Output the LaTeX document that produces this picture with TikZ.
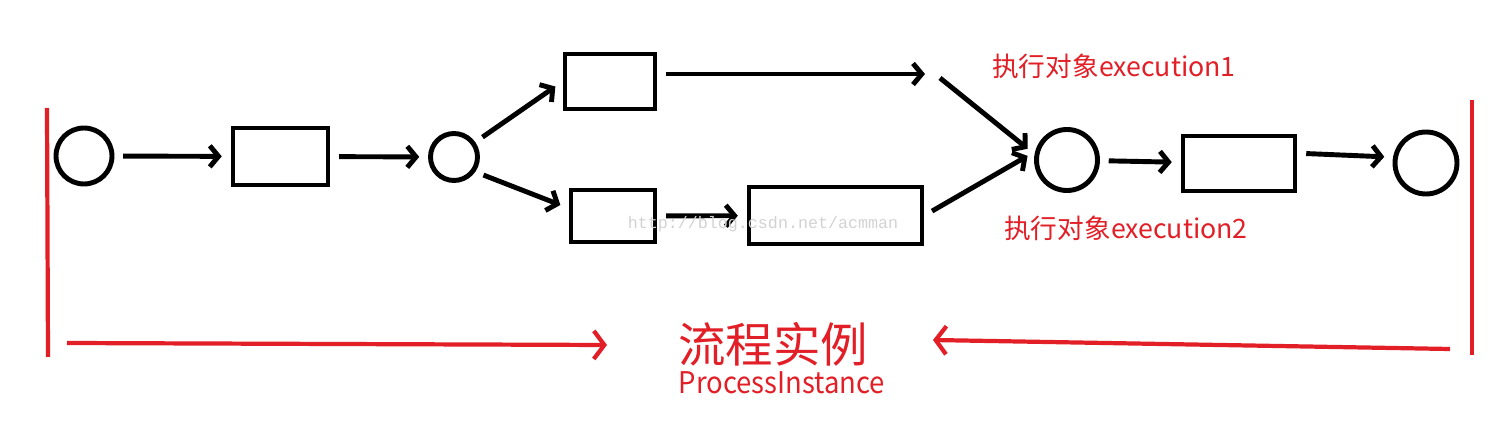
\documentclass[tikz,border=0pt]{standalone}
\usepackage{fontspec}
\newfontfamily\cjk{Noto Sans CJK SC}
\newfontfamily\cjknarrow[FakeStretch=0.92]{Noto Sans CJK SC}
\newfontfamily\wmfont{Liberation Mono}
\usetikzlibrary{arrows.meta}
\definecolor{penred}{RGB}{226,30,38}

\begin{document}
\begin{tikzpicture}[x=0.02cm,y=-0.02cm,line width=2.8pt,
        place/.style={draw,circle,inner sep=0pt,minimum size=#1},
        task/.style={draw,rectangle,inner sep=0pt},
        flow/.style={-{Straight Barb[length=5pt,width=12pt]},shorten <=5pt,shorten >=5pt},
        execlbl/.style={text=penred,inner sep=0pt,font=\cjk\fontsize{15.2}{17}\selectfont},
        span/.style={draw=penred,line width=2.4pt},
        spanarrow/.style={span,-{Straight Barb[length=6pt,width=16pt]}}]
        \useasboundingbox (0,0) rectangle (1508,428);
        \node [place=1.12cm] (start) at (84,156) {};
        \node [task,minimum width=1.9cm,minimum height=1.14cm] (t1) at (280.5,156.5) {};
        \node [place=0.94cm] (fork) at (454,157) {};
        \node [task,minimum width=1.8cm,minimum height=1.1cm] (t2) at (610,81.5) {};
        \node [task,minimum width=1.68cm,minimum height=1.04cm] (t3) at (613,216) {};
        \node [task,minimum width=3.46cm,minimum height=1.14cm] (t4) at (835.5,215.5) {};
        \node [place=1.22cm] (join) at (1067,160) {};
        \node [task,minimum width=2.24cm,minimum height=1.1cm] (t5) at (1239,163.5) {};
        \node [place=1.24cm] (end) at (1426,163) {};
        \coordinate (gap1) at (925,74);
        \coordinate (gap2) at (940,78);
        \draw [flow] (start) -- (t1);
        \draw [flow] (t1) -- (fork);
        \draw [flow] (fork.35) -- (t2.west);
        \draw [flow] (fork.-35) -- (t3.170);
        \draw [flow,shorten >=0pt] (t2.east |- gap1) -- (gap1);
        \draw [flow,shorten <=0pt] (gap2) -- (join.170);
        \draw [flow] (t3) -- (t4);
        \draw [flow] (t4.east) -- (join.165);
        \draw [flow] (join) -- (t5);
        \draw [flow] (t5.10) -- (end.170);
        \node [text=gray!35,font=\wmfont\fontsize{9.5}{11}\selectfont] (mark) at (763,224) {http://blog.csdn.net/acmman};
        \node [execlbl] (exec1) at (1114,66) {执行对象execution1};
        \node [execlbl] (exec2) at (1126,228) {执行对象execution2};
        \node [text=penred,inner sep=0pt,font=\cjk\fontsize{27}{30}\selectfont] (title) at (773,344) {流程实例};
        \node [text=penred,inner sep=0pt,font=\cjknarrow\fontsize{17}{19}\selectfont] (subtitle) at (782,383) {ProcessInstance};
        \coordinate (ltop) at (47,108);
        \coordinate (lbot) at (48,357);
        \coordinate (rtop) at (1472,100);
        \coordinate (rbot) at (1472,355);
        \coordinate (lfrom) at (67,343);
        \coordinate (lto) at (607,345);
        \coordinate (rfrom) at (1450,349);
        \coordinate (rto) at (933,340);
        \draw [span] (ltop) -- (lbot);
        \draw [span] (rtop) -- (rbot);
        \draw [spanarrow] (lfrom) -- (lto);
        \draw [spanarrow] (rfrom) -- (rto);
\end{tikzpicture}
\end{document}
